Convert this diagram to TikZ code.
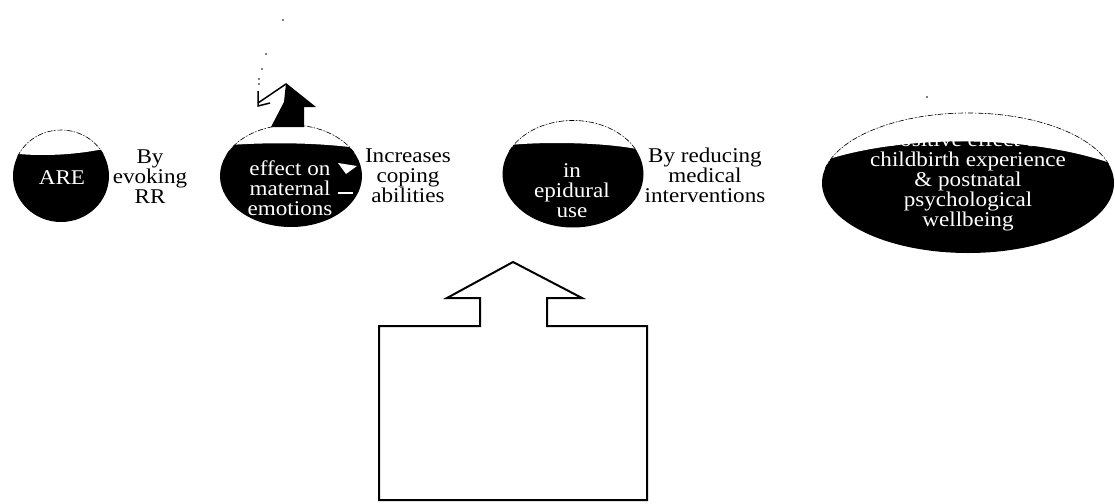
\documentclass[tikz,border=0pt]{standalone}
\usepackage{fontspec}
\setmainfont{Liberation Serif}[FakeStretch=1.1]
\usetikzlibrary{shapes.geometric}

\begin{document}
\begin{tikzpicture}[
x=1pt, y=-1pt,
blob/.style={ellipse, fill=black, draw=none, inner sep=0pt},
inblob/.style={align=center, text=white, inner sep=0pt, font=\fontsize{21}{20}\selectfont},
note/.style={align=center, inner sep=0pt, font=\fontsize{21}{20}\selectfont},
rim/.style={draw=black, line width=0.6pt, dash pattern=on 5pt off 2pt on 1pt off 2pt},
hollow/.style={draw=black, line width=2pt, fill=white, line join=miter}
]
\useasboundingbox (0,0) rectangle (1115,503);

% black ellipses
\node[blob, minimum width=96pt, minimum height=92pt] (are) at (61,176) {};
\node[blob, minimum width=142pt, minimum height=102pt] (emo) at (291,176) {};
\node[blob, minimum width=141pt, minimum height=107pt] (epi) at (573,174) {};
\node[blob, minimum width=292pt, minimum height=140pt] (well) at (968,183) {};

% white caps
\begin{scope}
\clip (61,176) ellipse [x radius=48, y radius=46];
\fill[white] (10,153) .. controls (40,157) and (80,155) .. (112,147) -- (112,120) -- (10,120) -- cycle;
\end{scope}
\begin{scope}
\clip (291,176) ellipse [x radius=71, y radius=51];
\fill[white] (218,146) .. controls (260,142) and (320,142) .. (364,149) -- (364,115) -- (218,115) -- cycle;
\end{scope}
\begin{scope}
\clip (573,174) ellipse [x radius=70.5, y radius=53.5];
\fill[white] (500,146) .. controls (540,141) and (610,142) .. (646,151) -- (646,115) -- (500,115) -- cycle;
\end{scope}
\begin{scope}
\clip (968,183) ellipse [x radius=146, y radius=70];
\fill[white] (820,162) .. controls (900,134) and (1030,134) .. (1116,165) -- (1116,105) -- (820,105) -- cycle;
\end{scope}
\draw[rim] (61,176) ++(205:48 and 46) arc [start angle=205, end angle=335, x radius=48, y radius=46];
\draw[rim] (291,176) ++(205:71 and 51) arc [start angle=205, end angle=335, x radius=71, y radius=51];
\draw[rim] (573,174) ++(205:70.5 and 53.5) arc [start angle=205, end angle=335, x radius=70.5, y radius=53.5];
\draw[rim] (968,183) ++(192:146 and 70) arc [start angle=192, end angle=348, x radius=146, y radius=70];

% white specks on the second ellipse
\fill[white] (338,163) -- (357,166) -- (346,174) -- cycle;
\draw[white, line width=2pt] (338,193) -- (353,193);

% texts
\node[inblob] (aretxt) at (62,178) {ARE};
\node[inblob] (emotxt) at (290,188) {effect on\\maternal\\emotions};
\node[inblob] (epitxt) at (572,191) {in\\epidural\\use};
\node[inblob] (welltxt) at (968,181) {Positive effect on\\childbirth experience\\\& postnatal\\psychological\\wellbeing};

\node[note] (evoke) at (150,177) {By\\evoking\\RR};
\node[note] (cope) at (408,176) {Increases\\coping\\abilities};
\node[note] (reduce) at (705,175) {By reducing\\medical\\interventions};

% black arrow over the second ellipse
\fill[black] (286,83) -- (316,107) -- (304,107) -- (304,127) -- (271,127) -- (284,102) -- cycle;
\draw[line width=1.5pt] (286,84) -- (258,103);
\draw[line width=1.5pt] (258,91) -- (258,106) -- (270,103);
\foreach \p in {(283,20),(266,54),(262,69),(259,79),(259,84),(927,97)}
  \fill \p circle [radius=0.9];

% hollow block arrow
\draw[hollow] (513,262) -- (582,298) -- (547,298) -- (547,326) -- (647,326) -- (647,500)
  -- (379,500) -- (379,326) -- (480,326) -- (480,298) -- (447,298) -- cycle;
\end{tikzpicture}
\end{document}
